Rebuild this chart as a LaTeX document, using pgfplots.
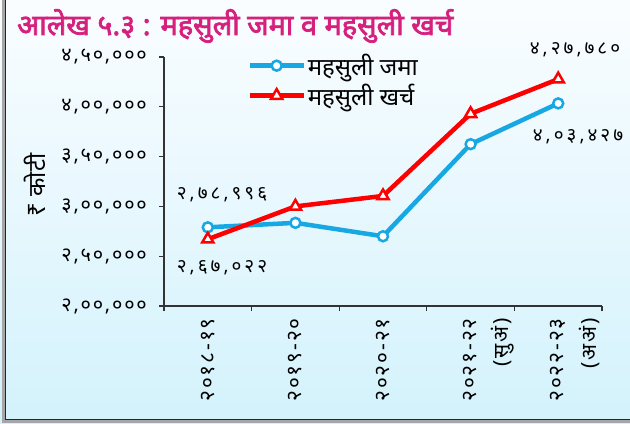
\documentclass[border=0pt]{standalone}
\usepackage{pgfplots}
\pgfplotsset{compat=1.18}
\usepackage{fontspec}
\setmainfont{Noto Sans}
\newfontfamily\dev[Script=Devanagari]{Noto Sans}
\newfontfamily\devn[Script=Devanagari, LetterSpace=9]{Noto Sans}
\newfontfamily\devw[Script=Devanagari, LetterSpace=16]{Noto Sans}
\newfontfamily\devb[Script=Devanagari, FakeBold=2.5]{Noto Sans}
\definecolor{jblue}{HTML}{17A8E3}
\definecolor{kred}{HTML}{FF0000}
\definecolor{ttl}{HTML}{D6207E}
\definecolor{axc}{HTML}{333333}
\definecolor{bgtop}{HTML}{FAFDFF}
\definecolor{bgbot}{HTML}{D3F2FC}
\begin{document}
\begin{tikzpicture}[x=1bp,y=1bp]
\useasboundingbox (0,0) rectangle (630,423);
\shade[top color=bgtop, bottom color=bgbot] (0,0) rectangle (630,423);
\draw[gray!70, line width=2.5bp] (3.5,423) -- (3.5,1.5) -- (630,1.5);
\draw[black!85, line width=1.3bp] (5.5,423) -- (5.5,3.2) -- (630,3.2);
\node[anchor=base west, text=ttl, font=\devb\fontsize{29}{32}\selectfont, inner sep=0pt] at (17,388) {आलेख ५.३ : महसुली जमा व महसुली खर्च};
\begin{axis}[
  at={(164bp,117bp)}, anchor=south west, scale only axis,
  width=438bp, height=249bp,
  xmin=0.5, xmax=5.5, ymin=200000, ymax=450000,
  scaled y ticks=false,
  axis lines*=left,
  axis line style={axc, line width=1.3bp},
  tick style={axc, line width=1.3bp},
  major tick length=5bp, tick align=outside, tick pos=left,
  xtick={0.5,1.5,2.5,3.5,4.5,5.5}, xticklabels={},
  extra x ticks={1,2,3,4,5,4.36,5.36},
  extra x tick labels={{२०१८-१९},{२०१९-२०},{२०२०-२१},{२०२१-२२},{२०२२-२३},{(सुअं)},{(अअं)}},
  extra x tick style={major tick length=0pt},
  xticklabel style={rotate=90, anchor=east, font=\devn\fontsize{21}{23}\selectfont, inner sep=0pt},
  xticklabel shift=12bp,
  ytick={200000,250000,300000,350000,400000,450000},
  yticklabels={{२,००,०००},{२,५०,०००},{३,००,०००},{३,५०,०००},{४,००,०००},{४,५०,०००}},
  yticklabel style={anchor=east, font=\devn\fontsize{20}{22}\selectfont, inner sep=0pt},
  yticklabel shift=12bp,
  legend style={at={(axis description cs:0.19,1.02)}, anchor=north west, draw=none, fill=none,
    font=\dev\fontsize{24}{27}\selectfont, row sep=3bp, inner sep=0pt, cells={anchor=west}},
  legend image code/.code={\draw[mark repeat=2,mark phase=2,#1] plot coordinates {(0bp,0bp) (27bp,0bp) (54bp,0bp)};},
  clip=false,
]
\addplot[jblue, line width=4.5bp, mark=*, mark size=5bp, mark options={fill=white, draw=jblue, line width=2.5bp}]
  coordinates {(1,278996) (2,283500) (3,270000) (4,362500) (5,403427)};
\addlegendentry{महसुली जमा}
\addplot[kred, line width=4.5bp, mark=triangle*, mark size=6.5bp, mark options={fill=white, draw=kred, line width=2.5bp}]
  coordinates {(1,267022) (2,300000) (3,310500) (4,393000) (5,427780)};
\addlegendentry{महसुली खर्च}
\end{axis}
\begin{scope}[every node/.style={font=\devw\fontsize{19}{21}\selectfont, inner sep=0pt}]
\node at (222,228) {२,७८,९९६};
\node at (222,155) {२,६७,०२२};
\node at (575,373) {४,२७,७८०};
\node at (578,286) {४,०३,४२७};
\node[rotate=90, font=\dev\fontsize{24}{26}\selectfont] at (35,238) {₹ कोटी};
\end{scope}
\end{tikzpicture}
\end{document}
